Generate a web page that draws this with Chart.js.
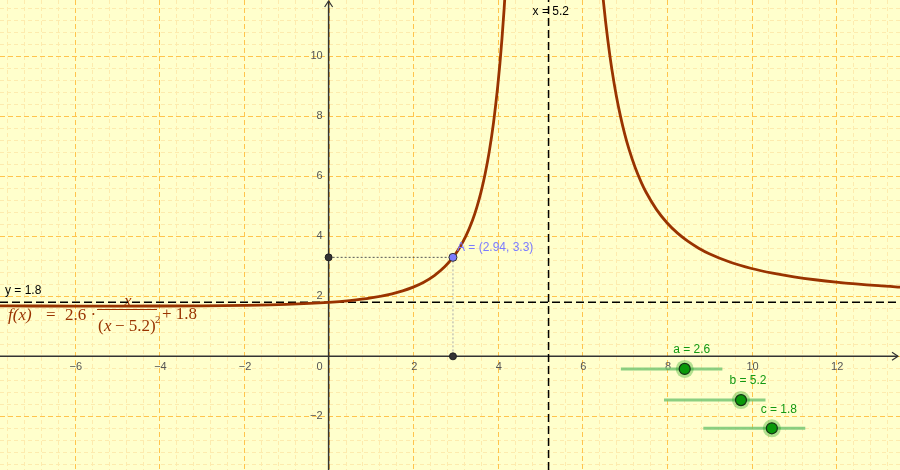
<!DOCTYPE html>
<html>
<head>
<meta charset="utf-8">
<script src="https://cdn.jsdelivr.net/npm/chart.js@4.4.0/dist/chart.umd.min.js"></script>
<style>
  html, body { margin: 0; padding: 0; background: #ffffcc; }
  #wrap { width: 900px; height: 470px; }
</style>
</head>
<body>
<div id="wrap"><canvas id="graph"></canvas></div>
<script>
// visible window of the graphics view
const xMin = -7.77, xMax = 13.51;
const yMin = -3.79, yMax = 11.88;

const xTicks = [-6, -4, -2, 2, 4, 6, 8, 10, 12];
const yTicks = [-2, 2, 4, 6, 8, 10];

// f(x), one list per branch
const leftX = [-7.8, -7, -6, -5, -4, -3, -2, -1, 0, 0.5, 1, 1.5, 1.75, 2, 2.25, 2.5, 2.75, 2.94, 3.1, 3.25, 3.4, 3.5, 3.6, 3.7, 3.8, 3.9, 4, 4.05, 4.1, 4.15, 4.2, 4.25, 4.3];
const leftY = [1.68, 1.678, 1.676, 1.675, 1.677, 1.684, 1.70, 1.732, 1.8, 1.859, 1.947, 2.085, 2.182, 2.308, 2.472, 2.692, 2.991, 3.297, 3.628, 4.022, 4.528, 4.949, 5.456, 6.076, 6.841, 7.8, 9.022, 9.76, 10.61, 11.587, 12.72, 14.04, 15.6];
const rightX = [6.35, 6.4, 6.45, 6.5, 6.55, 6.6, 6.7, 6.8, 6.9, 7, 7.1, 7.25, 7.4, 7.5, 7.75, 8, 8.25, 8.5, 8.75, 9, 9.5, 10, 10.5, 11, 11.5, 12, 13, 13.6];
const rightY = [14.28, 13.36, 12.53, 11.8, 11.144, 10.56, 9.542, 8.706, 8.008, 7.417, 6.914, 6.285, 5.775, 5.486, 4.899, 4.453, 4.106, 3.829, 3.605, 3.42, 3.136, 2.928, 2.772, 2.65, 2.553, 2.475, 2.356, 2.301];

const asymX = 5.2;
const asymY = 1.8;
const pointA = [2.94, 3.3];

// sliders a, b, c
const sliderNames = ['a', 'b', 'c'];
const sliderValues = [2.6, 5.2, 1.8];
const sliderStart = [6.91, 7.93, 8.86];
const sliderEnd = [9.31, 10.33, 11.27];
const sliderRow = [-0.42, -1.46, -2.40];
const sliderKnob = [8.42, 9.75, 10.48];

const FONT = "'Liberation Sans', Arial, sans-serif";
const SERIF = "'Liberation Serif', 'DejaVu Serif', serif";

const pts = (xs, ys) => xs.map((x, i) => ({ x, y: ys[i] }));

const datasets = [];
// asymptotes
datasets.push({ data: [{ x: xMin, y: asymY }, { x: xMax, y: asymY }], borderColor: '#000', borderWidth: 1.5, borderDash: [8, 4], pointRadius: 0, order: 90 });
datasets.push({ data: [{ x: asymX, y: yMin }, { x: asymX, y: yMax }], borderColor: '#000', borderWidth: 1.5, borderDash: [8, 4], pointRadius: 0, order: 90 });
// projections of A
datasets.push({ data: [{ x: 0, y: pointA[1] }, { x: pointA[0], y: pointA[1] }], borderColor: '#555', borderWidth: 1, borderDash: [2, 2], pointRadius: 0, order: 80 });
datasets.push({ data: [{ x: pointA[0], y: pointA[1] }, { x: pointA[0], y: 0 }], borderColor: '#aaa', borderWidth: 1, borderDash: [2, 2], pointRadius: 0, order: 80 });
// curve
datasets.push({ data: pts(leftX, leftY), borderColor: '#993300', borderWidth: 2.8, pointRadius: 0, cubicInterpolationMode: 'monotone', order: 70 });
datasets.push({ data: pts(rightX, rightY), borderColor: '#993300', borderWidth: 2.8, pointRadius: 0, cubicInterpolationMode: 'monotone', order: 70 });
// foot points and A
datasets.push({ data: [{ x: 0, y: pointA[1] }, { x: pointA[0], y: 0 }], showLine: false, pointRadius: 3.5, pointBackgroundColor: '#333', pointBorderColor: '#222', pointBorderWidth: 1, order: 60 });
datasets.push({ data: [{ x: pointA[0], y: pointA[1] }], showLine: false, pointRadius: 4, pointBackgroundColor: '#7b7bff', pointBorderColor: '#333', pointBorderWidth: 1, order: 50 });
// sliders
sliderNames.forEach((n, i) => {
  datasets.push({ data: [{ x: sliderStart[i], y: sliderRow[i] }, { x: sliderEnd[i], y: sliderRow[i] }], borderColor: 'rgba(110,195,110,0.8)', borderWidth: 3, pointRadius: 0, order: 40 });
  datasets.push({ data: [{ x: sliderKnob[i], y: sliderRow[i] }], showLine: false, pointRadius: 9, pointBackgroundColor: 'rgba(0,153,0,0.3)', pointBorderWidth: 0, order: 30 });
  datasets.push({ data: [{ x: sliderKnob[i], y: sliderRow[i] }], showLine: false, pointRadius: 5.5, pointBackgroundColor: '#0a990a', pointBorderColor: '#143314', pointBorderWidth: 1.2, order: 20 });
});

const background = {
  id: 'background',
  beforeDraw(chart) {
    const { ctx, scales: { x, y } } = chart;
    const W = chart.width, H = chart.height;
    ctx.save();
    ctx.fillStyle = '#ffffcc';
    ctx.fillRect(0, 0, W, H);

    // minor grid every 0.4, major every 2
    const line = (x1, y1, x2, y2) => { ctx.beginPath(); ctx.moveTo(x1, y1); ctx.lineTo(x2, y2); ctx.stroke(); };
    ctx.lineWidth = 1;
    for (const major of [false, true]) {
      ctx.strokeStyle = major ? '#ffc44d' : '#fdebae';
      ctx.setLineDash(major ? [5, 3] : [4, 3]);
      for (let k = Math.ceil(xMin / 0.4); k <= Math.floor(xMax / 0.4); k++) {
        if ((k % 5 === 0) !== major) continue;
        const px = Math.round(x.getPixelForValue(k * 0.4)) + 0.5;
        line(px, 0, px, H);
      }
      for (let k = Math.ceil(yMin / 0.4); k <= Math.floor(yMax / 0.4); k++) {
        if ((k % 5 === 0) !== major) continue;
        const py = Math.round(y.getPixelForValue(k * 0.4)) + 0.5;
        line(0, py, W, py);
      }
    }
    ctx.setLineDash([]);

    // axes with arrows
    const ox = x.getPixelForValue(0), oy = y.getPixelForValue(0);
    ctx.strokeStyle = '#333';
    ctx.lineWidth = 1.5;
    line(0, oy, W - 2, oy);
    line(ox, H, ox, 1);
    ctx.lineWidth = 1.2;
    ctx.beginPath(); ctx.moveTo(W - 8, oy - 4); ctx.lineTo(W - 2, oy); ctx.lineTo(W - 8, oy + 4); ctx.stroke();
    ctx.beginPath(); ctx.moveTo(ox - 4, 7); ctx.lineTo(ox, 1); ctx.lineTo(ox + 4, 7); ctx.stroke();

    // tick labels
    ctx.fillStyle = '#555';
    ctx.font = '11px ' + FONT;
    ctx.textBaseline = 'middle';
    ctx.textAlign = 'center';
    xTicks.forEach(v => ctx.fillText(String(v).replace('-', '\u2212'), x.getPixelForValue(v) + 1, oy + 11));
    ctx.fillText('0', ox - 9, oy + 11);
    ctx.textAlign = 'right';
    yTicks.forEach(v => ctx.fillText(String(v).replace('-', '\u2212'), ox - 6, y.getPixelForValue(v)));

    // function label
    ctx.fillStyle = '#993300';
    ctx.textBaseline = 'alphabetic';
    ctx.textAlign = 'left';
    ctx.font = 'italic 17px ' + SERIF;
    ctx.fillText('f(x)', 8, 320);
    ctx.font = '17px ' + SERIF;
    ctx.fillText('=', 46, 320);
    ctx.fillText('2.6 \u00b7', 65, 320);
    ctx.font = 'italic 17px ' + SERIF;
    ctx.fillText('x', 124, 306);
    ctx.fillRect(97, 309, 60, 1);
    ctx.font = '17px ' + SERIF;
    ctx.fillText('(', 98, 331);
    ctx.font = 'italic 17px ' + SERIF;
    ctx.fillText('x', 104, 331);
    ctx.font = '17px ' + SERIF;
    ctx.fillText('\u2212 5.2)', 115, 331);
    ctx.font = '11px ' + SERIF;
    ctx.fillText('2', 155, 323);
    ctx.font = '17px ' + SERIF;
    ctx.fillText('+ 1.8', 162, 319);
    ctx.restore();
  }
};

const labels = {
  id: 'labels',
  afterDatasetsDraw(chart) {
    const { ctx, scales: { x, y } } = chart;
    ctx.save();
    ctx.font = '12px ' + FONT;
    ctx.textBaseline = 'middle';
    ctx.textAlign = 'left';
    ctx.fillStyle = '#000';
    ctx.fillText('y = ' + asymY, 5, y.getPixelForValue(asymY) - 12);
    ctx.fillText('x = ' + asymX, x.getPixelForValue(asymX) - 16, 12);
    ctx.fillStyle = '#7b7bff';
    ctx.fillText('A = (' + pointA[0] + ', ' + pointA[1] + ')', x.getPixelForValue(pointA[0]) + 4, y.getPixelForValue(pointA[1]) - 10);
    ctx.fillStyle = '#129912';
    ctx.textAlign = 'center';
    sliderNames.forEach((n, i) => {
      ctx.fillText(n + ' = ' + sliderValues[i], x.getPixelForValue(sliderKnob[i]) + 7, y.getPixelForValue(sliderRow[i]) - 19);
    });
    ctx.restore();
  }
};

new Chart(document.getElementById('graph'), {
  type: 'line',
  data: { datasets },
  options: {
    responsive: true,
    maintainAspectRatio: false,
    animation: false,
    events: [],
    layout: { padding: 0, autoPadding: false },
    plugins: { legend: { display: false }, tooltip: { enabled: false } },
    scales: {
      x: { type: 'linear', display: false, min: xMin, max: xMax },
      y: { type: 'linear', display: false, min: yMin, max: yMax }
    }
  },
  plugins: [background, labels]
});
</script>
</body>
</html>
